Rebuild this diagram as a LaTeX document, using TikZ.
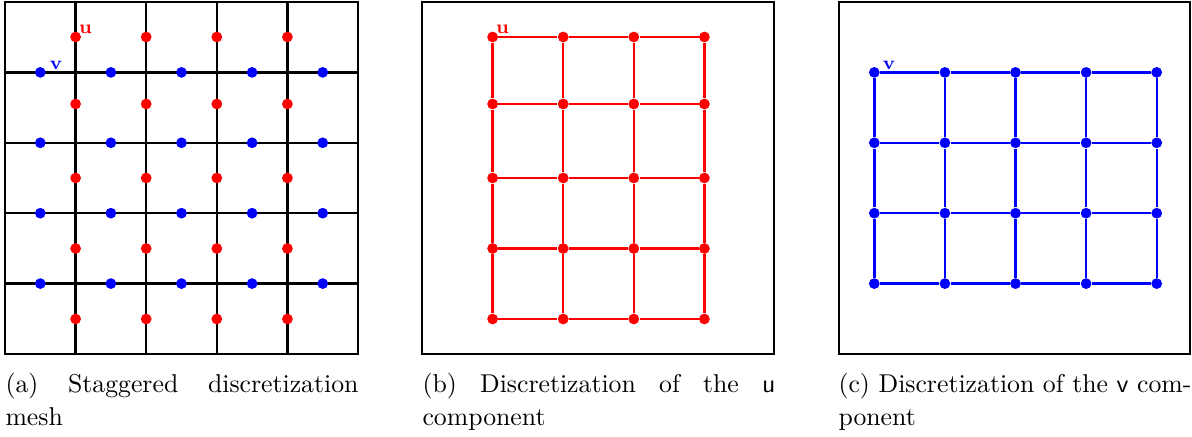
\documentclass[tikz,border=0pt]{standalone}
\begin{document}
\begin{tikzpicture}[x=0.4pt,y=-0.4pt,
  frame/.style={draw=black,line width=1.05pt},
  gridline/.style={line width=0.95pt},
  udot/.style={circle,fill=red,inner sep=0pt,minimum size=4.3pt},
  vdot/.style={circle,fill=blue,inner sep=0pt,minimum size=4.3pt},
  lab/.style={font=\fontsize{7.5}{9}\selectfont\bfseries,inner sep=0pt,anchor=base west},
  captext/.style={anchor=base west,inner sep=0pt,text width=141.2pt,align=left,font=\fontsize{10.3}{13.2}\selectfont}]
\useasboundingbox (0,0) rectangle (1192,437);

% ---------- (a) staggered mesh ----------
\draw[frame] (5,2) rectangle (358,354);
\foreach \i in {1,...,4}{
  \coordinate (aT\i) at ({5+70.6*\i},2);
  \coordinate (aB\i) at ({5+70.6*\i},354);
  \coordinate (aL\i) at (5,{2+70.4*\i});
  \coordinate (aR\i) at (358,{2+70.4*\i});
  \draw[gridline] (aT\i) -- (aB\i);
  \draw[gridline] (aL\i) -- (aR\i);
}
\foreach \i in {1,...,4}{
  \foreach \j/\yy in {1/37,2/104,3/178,4/248.5,5/319}{
    \node[udot] (au-\i-\j) at ({5+70.6*\i},\yy) {};
  }
}
\foreach \i in {1,...,5}{
  \foreach \j in {1,...,4}{
    \node[vdot] (av-\i-\j) at ({5+70.6*\i-35.3},{2+70.4*\j}) {};
  }
}
\node[lab,text=red] (alu) at ([xshift=1.2pt,yshift=1.2pt]au-1-1.center) {u};
\node[lab,text=blue] (alv) at ([xshift=3.6pt,yshift=1.2pt]av-1-1.center) {v};

% ---------- (b) u component ----------
\draw[frame] (422,2) rectangle (774,354);
\foreach \i in {1,...,4}{
  \foreach \j/\yy in {1/37,2/104,3/178,4/248.5,5/319}{
    \node[udot] (bu-\i-\j) at ({422+70.6*\i},\yy) {};
  }
}
\foreach \i in {1,...,4}{
  \foreach \j [evaluate=\j as \jj using int(\j+1)] in {1,...,4}{
    \draw[gridline,red] (bu-\i-\j) -- (bu-\i-\jj);
  }
}
\foreach \j in {1,...,5}{
  \foreach \i [evaluate=\i as \ii using int(\i+1)] in {1,...,3}{
    \draw[gridline,red] (bu-\i-\j) -- (bu-\ii-\j);
  }
}
\node[lab,text=red] (blu) at ([xshift=1.2pt,yshift=1.2pt]bu-1-1.center) {u};

% ---------- (c) v component ----------
\draw[frame] (839,2) rectangle (1190,354);
\foreach \i in {1,...,5}{
  \foreach \j in {1,...,4}{
    \node[vdot] (cv-\i-\j) at ({834+5+70.6*\i-35.3},{2+70.4*\j}) {};
  }
}
\foreach \i in {1,...,5}{
  \foreach \j [evaluate=\j as \jj using int(\j+1)] in {1,...,3}{
    \draw[gridline,blue] (cv-\i-\j) -- (cv-\i-\jj);
  }
}
\foreach \j in {1,...,4}{
  \foreach \i [evaluate=\i as \ii using int(\i+1)] in {1,...,4}{
    \draw[gridline,blue] (cv-\i-\j) -- (cv-\ii-\j);
  }
}
\node[lab,text=blue] (clv) at ([xshift=3.2pt,yshift=1.2pt]cv-1-1.center) {v};

% ---------- captions ----------
\node[captext] (capa) at (5,393) {(a)\hfill Staggered\hfill discretization\\mesh};
\node[captext] (capb) at (422,393) {(b)\hfill Discretization\hfill of\hfill the\hfill\textsf{u}\\component};
\node[captext] (capc) at (838,393) {(c)\hfill Discretization\hfill of\hfill the\hfill\textsf{v}\hfill com-\\ponent};
\end{tikzpicture}
\end{document}
